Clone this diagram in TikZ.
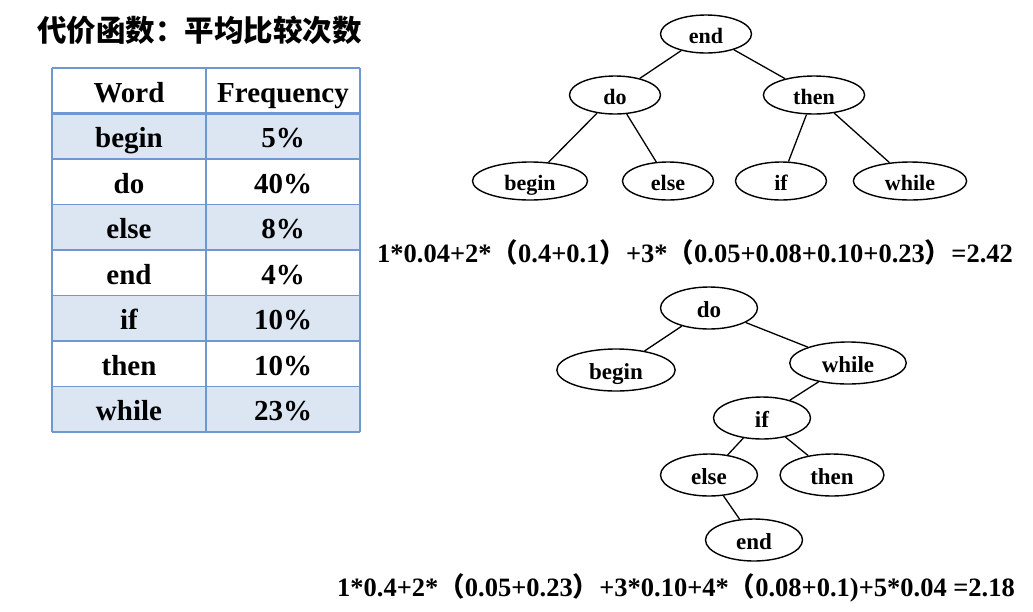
\documentclass[tikz,border=0pt]{standalone}
\usepackage{fontspec}
\setmainfont{Liberation Serif}
\newfontfamily\cjk{Noto Sans CJK SC}
\usetikzlibrary{shapes.geometric}
\definecolor{grid}{HTML}{6F98CF}
\definecolor{rowfill}{HTML}{DCE6F2}
\tikzset{
  treeNode/.style={draw, ellipse, line width=1.4pt, inner xsep=15pt, inner ysep=0pt,
    text height=18pt, text depth=0pt,
    minimum width=91pt, minimum height=38pt, font=\fontsize{22}{24}\selectfont\bfseries},
  treeNodeB/.style={treeNode, minimum width=97pt, minimum height=42pt,
    text height=19pt, text depth=0pt, font=\fontsize{23}{26}\selectfont\bfseries},
  treeEdge/.style={line width=1.3pt},
  tableLine/.style={draw=grid, line width=1.2pt},
  tableText/.style={font=\fontsize{29}{30}\selectfont\bfseries, text height=23pt, text depth=0pt},
  titleText/.style={font=\cjk\fontsize{29.5}{30}\selectfont\bfseries, anchor=west, inner sep=0pt},
  formulaText/.style={font=\fontsize{26.5}{28}\selectfont\bfseries, anchor=west, inner sep=0pt}
}
\newcommand{\fwl}{{\cjk （}}
\newcommand{\fwr}{{\cjk ）}}

\begin{document}
\begin{tikzpicture}[x=1pt,y=-1pt]
  \useasboundingbox (0,0) rectangle (1033,611);
  \node[titleText] (title) at (37,30) {代价函数：平均比较次数};

  % table
  \node[tableText] (wHead) at (129,90.75) {Word};
  \node[tableText] (fHead) at (283,90.75) {Frequency};
  \foreach \w/\f [count=\i] in {begin/5\%, do/40\%, else/8\%, end/4\%, if/10\%, then/10\%, while/23\%} {
    \pgfmathsetmacro{\yt}{68+45.5*\i}
    \ifodd\i \fill[rowfill] (52,\yt) rectangle (360,{\yt+45.5}); \fi
    \node[tableText] (w\i) at (129,{\yt+22.75}) {\w};
    \node[tableText] (f\i) at (283,{\yt+22.75}) {\f};
  }
  \foreach \i in {0,...,8}
    \draw[tableLine] (52,{68+45.5*\i}) -- (360,{68+45.5*\i});
  \draw[tableLine, line width=2.4pt] (52,113.5) -- (360,113.5);
  \foreach \x in {52,206,360}
    \draw[tableLine] (\x,68) -- (\x,432);

  % first tree
  \node[treeNode] (aEnd) at (706,34) {end};
  \node[treeNode] (aDo) at (615,95) {do};
  \node[treeNode] (aThen) at (814,95) {then};
  \node[treeNode] (aBegin) at (530,181) {begin};
  \node[treeNode] (aElse) at (668,181) {else};
  \node[treeNode] (aIf) at (781,181) {if};
  \node[treeNode] (aWhile) at (910,181) {while};
  \draw[treeEdge] (aEnd) -- (aDo);
  \draw[treeEdge] (aEnd) -- (aThen);
  \draw[treeEdge] (aDo) -- (aBegin);
  \draw[treeEdge] (aDo) -- (aElse);
  \draw[treeEdge] (aThen) -- (aIf);
  \draw[treeEdge] (aThen) -- (aWhile);

  \node[formulaText] (costA) at (377,252)
    {1*0.04+2*\fwl 0.4+0.1\fwr +3*\fwl 0.05+0.08+0.10+0.23\fwr =2.42};

  % second tree
  \node[treeNodeB] (bDo) at (709,308) {do};
  \node[treeNodeB] (bBegin) at (616,370) {begin};
  \node[treeNodeB] (bWhile) at (848,363) {while};
  \node[treeNodeB] (bIf) at (762,418) {if};
  \node[treeNodeB] (bElse) at (709,475) {else};
  \node[treeNodeB] (bThen) at (832,475) {then};
  \node[treeNodeB] (bEnd) at (754,540) {end};
  \draw[treeEdge] (bDo) -- (bBegin);
  \draw[treeEdge] (bDo) -- (bWhile);
  \draw[treeEdge] (bWhile) -- (bIf);
  \draw[treeEdge] (bIf) -- (bElse);
  \draw[treeEdge] (bIf) -- (bThen);
  \draw[treeEdge] (bElse) -- (bEnd);

  \node[formulaText] (costB) at (337,588)
    {1*0.4+2*\fwl 0.05+0.23\fwr +3*0.10+4*\fwl 0.08+0.1)+5*0.04 =2.18};
\end{tikzpicture}
\end{document}
